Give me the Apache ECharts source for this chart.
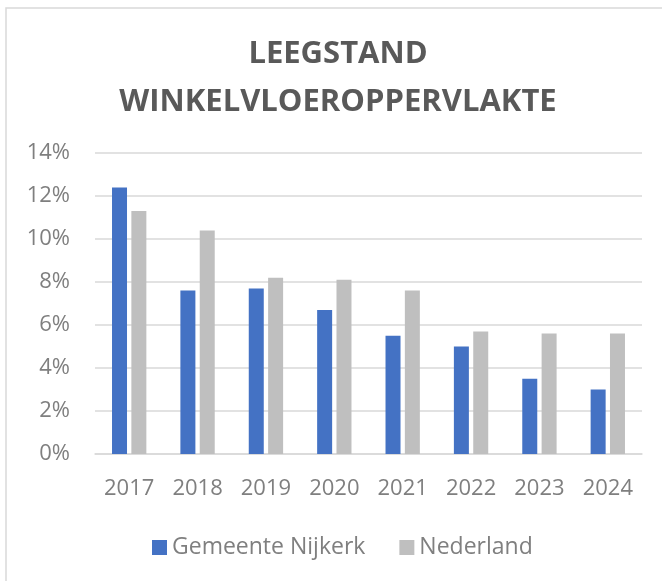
<!DOCTYPE html>
<html>
<head>
<meta charset="utf-8">
<script src="https://cdn.jsdelivr.net/npm/echarts@6/dist/echarts.min.js"></script>
<style>
  html, body { margin: 0; padding: 0; background: #fff; }
  #main { width: 662px; height: 581px; }
</style>
</head>
<body>
<div id="main"></div>
<script>
var years = ["2017", "2018", "2019", "2020", "2021", "2022", "2023", "2024"];
var nijkerk = [12.4, 7.6, 7.7, 6.7, 5.5, 5.0, 3.5, 3.0];
var nederland = [11.3, 10.4, 8.2, 8.1, 7.6, 5.7, 5.6, 5.6];
var yTicks = [0, 2, 4, 6, 8, 10, 12, 14];

var myChart = echarts.init(document.getElementById("main"));

var font = "'Open Sans', sans-serif";

var option = {
  animation: false,
  backgroundColor: "#fff",
  graphic: [{
    type: "rect",
    shape: { x: 6, y: 8, width: 700, height: 620 },
    style: { fill: "none", stroke: "#d9d9d9", lineWidth: 1.5 },
    z: 100
  }],
  title: {
    text: "LEEGSTAND\nWINKELVLOEROPPERVLAKTE",
    left: 338,
    top: 30,
    padding: 0,
    textAlign: "center",
    textStyle: {
      fontFamily: font,
      fontWeight: "bold",
      fontSize: 31,
      lineHeight: 48,
      color: "#595959"
    }
  },
  legend: {
    data: ["Gemeente Nijkerk", "Nederland"],
    left: 152,
    top: 536,
    padding: 0,
    itemWidth: 15,
    itemHeight: 15,
    itemGap: 34,
    icon: "rect",
    textStyle: { fontFamily: font, fontSize: 23, color: "#7f7f7f" }
  },
  grid: { left: 95, right: 20, top: 153, bottom: 127 },
  xAxis: {
    type: "category",
    data: years,
    axisTick: { show: false },
    axisLine: { lineStyle: { color: "#d9d9d9", width: 1.5 } },
    axisLabel: { fontFamily: font, fontSize: 22, color: "#7f7f7f", margin: 24 }
  },
  yAxis: {
    type: "value",
    min: yTicks[0],
    max: yTicks[yTicks.length - 1],
    interval: 2,
    axisLine: { show: false },
    axisTick: { show: false },
    splitLine: { lineStyle: { color: "#d9d9d9", width: 1.5 } },
    axisLabel: {
      fontFamily: font, fontSize: 22, color: "#7f7f7f", margin: 25,
      formatter: function (v) { return v + "%"; }
    }
  },
  series: [
    {
      name: "Gemeente Nijkerk",
      type: "bar",
      data: nijkerk,
      barWidth: 15,
      barGap: "29%",
      itemStyle: { color: "#4472c4" }
    },
    {
      name: "Nederland",
      type: "bar",
      data: nederland,
      barWidth: 15,
      barGap: "29%",
      itemStyle: { color: "#bfbfbf" }
    }
  ]
};

myChart.setOption(option);
</script>
</body>
</html>
